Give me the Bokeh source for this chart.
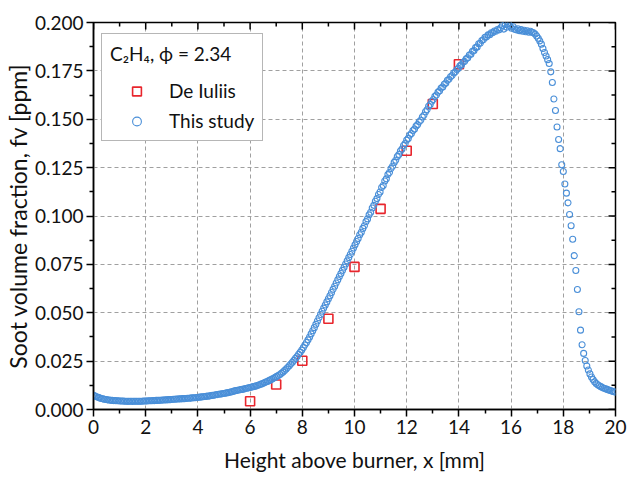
import math
from bokeh.plotting import figure
from bokeh.models import FixedTicker, Legend, LegendItem, Range1d
from bokeh.embed import file_html
from bokeh.resources import INLINE

# ---------------- data ----------------
x_ticks = [0, 2, 4, 6, 8, 10, 12, 14, 16, 18, 20]
x_minor = [1, 3, 5, 7, 9, 11, 13, 15, 17, 19]
y_ticks = [0.0, 0.025, 0.05, 0.075, 0.1, 0.125, 0.15, 0.175, 0.2]
y_tick_labels = ["0.000", "0.025", "0.050", "0.075", "0.100", "0.125", "0.150", "0.175", "0.200"]
y_minor = [0.0125, 0.0375, 0.0625, 0.0875, 0.1125, 0.1375, 0.1625, 0.1875]
x_min, x_max = 0, 20
y_min, y_max = 0.0, 0.2

deiuliis_x = [6, 7, 8, 9, 10, 11, 12, 13, 14]
deiuliis_fv = [0.0043, 0.0129, 0.0252, 0.0469, 0.0737, 0.1037, 0.1337, 0.1579, 0.1784]

study_x_start = 0.0
study_x_step = 0.06
study_fv = [
    0.0073, 0.0069, 0.0066, 0.0063, 0.0060, 0.0057, 0.0055, 0.0053, 0.0052, 0.0050,
    0.0049, 0.0048, 0.0047, 0.0046, 0.0046, 0.0045, 0.0045, 0.0044, 0.0044, 0.0044,
    0.0043, 0.0043, 0.0042, 0.0043, 0.0043, 0.0042, 0.0043, 0.0043, 0.0043, 0.0043,
    0.0043, 0.0043, 0.0044, 0.0044, 0.0044, 0.0045, 0.0045, 0.0045, 0.0046, 0.0046,
    0.0047, 0.0047, 0.0048, 0.0048, 0.0049, 0.0049, 0.0050, 0.0050, 0.0051, 0.0051,
    0.0052, 0.0053, 0.0053, 0.0054, 0.0054, 0.0055, 0.0055, 0.0056, 0.0056, 0.0057,
    0.0058, 0.0058, 0.0059, 0.0060, 0.0061, 0.0061, 0.0062, 0.0063, 0.0064, 0.0065,
    0.0066, 0.0067, 0.0068, 0.0069, 0.0070, 0.0072, 0.0073, 0.0074, 0.0076, 0.0077,
    0.0079, 0.0080, 0.0081, 0.0083, 0.0084, 0.0086, 0.0087, 0.0089, 0.0091, 0.0093,
    0.0096, 0.0098, 0.0099, 0.0101, 0.0103, 0.0104, 0.0106, 0.0108, 0.0110, 0.0112,
    0.0114, 0.0116, 0.0118, 0.0120, 0.0122, 0.0125, 0.0128, 0.0131, 0.0134, 0.0138,
    0.0142, 0.0145, 0.0149, 0.0153, 0.0157, 0.0161, 0.0166, 0.0171, 0.0176, 0.0181,
    0.0187, 0.0194, 0.0201, 0.0209, 0.0217, 0.0226, 0.0235, 0.0244, 0.0254, 0.0264,
    0.0274, 0.0285, 0.0296, 0.0307, 0.0320, 0.0333, 0.0346, 0.0360, 0.0375, 0.0391,
    0.0407, 0.0423, 0.0440, 0.0457, 0.0474, 0.0491, 0.0508, 0.0524, 0.0540, 0.0556,
    0.0572, 0.0588, 0.0605, 0.0621, 0.0637, 0.0654, 0.0670, 0.0687, 0.0703, 0.0719,
    0.0735, 0.0752, 0.0768, 0.0785, 0.0801, 0.0818, 0.0834, 0.0851, 0.0868, 0.0884,
    0.0903, 0.0916, 0.0936, 0.0950, 0.0971, 0.0985, 0.1006, 0.1019, 0.1041, 0.1055,
    0.1076, 0.1090, 0.1111, 0.1124, 0.1147, 0.1158, 0.1181, 0.1192, 0.1214, 0.1225,
    0.1245, 0.1257, 0.1277, 0.1288, 0.1307, 0.1318, 0.1336, 0.1346, 0.1364, 0.1374,
    0.1392, 0.1401, 0.1418, 0.1426, 0.1442, 0.1450, 0.1465, 0.1472, 0.1487, 0.1495,
    0.1512, 0.1521, 0.1539, 0.1549, 0.1567, 0.1576, 0.1593, 0.1602, 0.1618, 0.1625,
    0.1640, 0.1647, 0.1661, 0.1667, 0.1681, 0.1687, 0.1701, 0.1707, 0.1720, 0.1726,
    0.1739, 0.1744, 0.1757, 0.1763, 0.1776, 0.1781, 0.1794, 0.1799, 0.1812, 0.1818,
    0.1832, 0.1836, 0.1851, 0.1855, 0.1870, 0.1874, 0.1890, 0.1893, 0.1907, 0.1911,
    0.1924, 0.1925, 0.1936, 0.1937, 0.1947, 0.1947, 0.1956, 0.1955, 0.1964, 0.1962,
    0.1972, 0.1985, 0.1966, 0.1990, 0.1976, 0.1995, 0.1982, 0.1970, 0.1978, 0.1965,
    0.1962, 0.1968, 0.1958, 0.1963, 0.1955, 0.1960, 0.1952, 0.1957, 0.1950, 0.1955,
    0.1950, 0.1947, 0.1940, 0.1930, 0.1918, 0.1905, 0.1888, 0.1866, 0.1845, 0.1827,
    0.1808, 0.1788, 0.1745, 0.1690, 0.1605, 0.1545, 0.1460, 0.1395, 0.1348, 0.1265,
    0.1230, 0.1165, 0.1118, 0.1068, 0.1008, 0.0950, 0.0880, 0.0795, 0.0718, 0.0620,
    0.0505, 0.0410, 0.0335, 0.0290, 0.0253, 0.0225, 0.0204, 0.0184, 0.0168, 0.0155,
    0.0143, 0.0135, 0.0128, 0.0123, 0.0118, 0.0114, 0.0110, 0.0107, 0.0104, 0.0101,
    0.0098, 0.0095, 0.0093, 0.0090,
]
study_x = [round(study_x_start + i * study_x_step, 3) for i in range(len(study_fv))]

legend_title = "C\u2082H\u2084, \u03d5 = 2.34"
label_de = "De Iuliis"
label_study = "This study"
x_label = "Height above burner, x [mm]"
y_label = "Soot volume fraction, fv [ppm]"

# ---------------- styling ----------------
FONT = "Lato"
TXT = "#111111"
BLUE = "#4a8fd8"
RED = "#e8262d"

p = figure(width=627, height=477, output_backend="svg", toolbar_location=None,
           x_range=Range1d(x_min, x_max), y_range=Range1d(y_min, y_max),
           min_border_left=92, min_border_right=12, min_border_top=22, min_border_bottom=68,
           x_axis_label=x_label, y_axis_label=y_label)
p.outline_line_color = "black"
p.outline_line_width = 1.5
p.background_fill_color = "white"
p.border_fill_color = "white"

xt = FixedTicker(ticks=x_ticks, minor_ticks=x_minor)
yt = FixedTicker(ticks=y_ticks, minor_ticks=y_minor)
p.xaxis[0].ticker = xt
p.yaxis[0].ticker = yt
p.yaxis[0].major_label_overrides = {t: l for t, l in zip(y_ticks, y_tick_labels)}

for ax in (p.xaxis[0], p.yaxis[0]):
    ax.axis_line_color = "black"
    ax.axis_line_width = 1.5
    ax.major_tick_line_color = "black"
    ax.major_tick_line_width = 1.5
    ax.minor_tick_line_color = "black"
    ax.minor_tick_line_width = 1.5
    ax.major_tick_out = 7
    ax.major_tick_in = 0
    ax.minor_tick_out = 4
    ax.minor_tick_in = 0
    ax.major_label_text_font = FONT
    ax.major_label_text_font_size = "19px"
    ax.major_label_text_color = TXT
    ax.axis_label_text_font = FONT
    ax.axis_label_text_font_style = "normal"
    ax.axis_label_text_color = TXT

p.xaxis[0].axis_label_text_font_size = "21px"
p.yaxis[0].axis_label_text_font_size = "23px"
p.xaxis[0].major_label_standoff = 3
p.xaxis[0].axis_label_standoff = 10
p.yaxis[0].major_label_standoff = 3
p.yaxis[0].axis_label_standoff = 0

# inward ticks on top and right edges (dash markers centred on the frame edge, clipped to the frame)
tick_kw = dict(marker="dash", line_color="black", line_width=1.5)
p.scatter(x_ticks, [y_max] * len(x_ticks), size=14, angle=math.pi / 2, **tick_kw)
p.scatter(x_minor, [y_max] * len(x_minor), size=8, angle=math.pi / 2, **tick_kw)
p.scatter([x_max] * len(y_ticks), y_ticks, size=14, **tick_kw)
p.scatter([x_max] * len(y_minor), y_minor, size=8, **tick_kw)

for g in (p.xgrid[0], p.ygrid[0]):
    g.grid_line_color = "#a0a0a0"
    g.grid_line_dash = "4 3"
    g.grid_line_width = 1
p.xgrid[0].ticker = FixedTicker(ticks=x_ticks[1:-1])
p.ygrid[0].ticker = FixedTicker(ticks=y_ticks[1:-1])

r_de = p.scatter(deiuliis_x, deiuliis_fv, marker="square", size=9,
                 fill_color=None, line_color=RED, line_width=1.6)
r_study = p.scatter(study_x, study_fv, marker="circle", size=6,
                    fill_color=None, line_color=BLUE, line_width=1.1)

legend = Legend(items=[LegendItem(label=label_de, renderers=[r_de]),
                       LegendItem(label=label_study, renderers=[r_study])],
                location=(8, 268), padding=8, spacing=7,
                glyph_width=53, glyph_height=22, label_height=22, label_standoff=6,
                title=legend_title, title_standoff=14,
                title_text_font=FONT, title_text_font_size="19px", title_text_font_style="normal",
                title_text_color=TXT,
                label_text_font=FONT, label_text_font_size="19px", label_text_color=TXT,
                border_line_color="#6e6e6e", border_line_width=1,
                background_fill_color="white", background_fill_alpha=1.0)
p.add_layout(legend)

open("out.html", "w").write(file_html(p, INLINE))
